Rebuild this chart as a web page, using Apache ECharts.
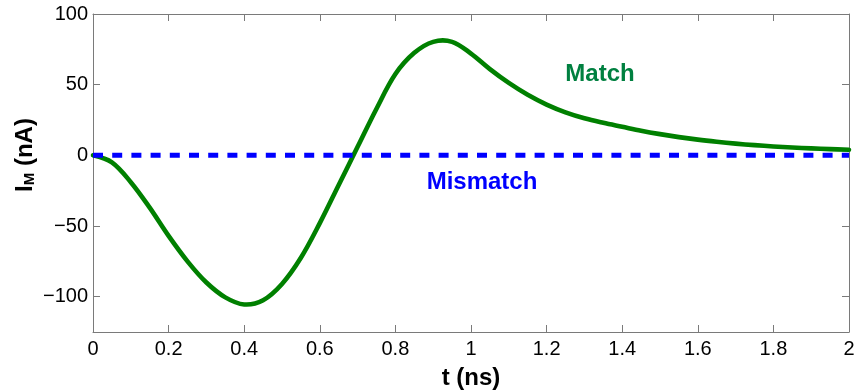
<!DOCTYPE html>
<html>
<head>
<meta charset="utf-8">
<script src="https://cdn.jsdelivr.net/npm/echarts@6/dist/echarts.min.js"></script>
<style>
  html, body { margin: 0; padding: 0; background: #fff; }
  #chart { width: 858px; height: 392px; }
</style>
</head>
<body>
<div id="chart"></div>
<script>
// Time samples (ns), every 0.05 ns, and membrane current (nA)
var timeNs = [0, 0.05, 0.1, 0.15, 0.2, 0.25, 0.3, 0.35, 0.4, 0.45, 0.5, 0.55, 0.6, 0.65,
  0.7, 0.75, 0.8, 0.85, 0.9, 0.95, 1.0, 1.05, 1.1, 1.15, 1.2, 1.25, 1.3, 1.35, 1.4,
  1.45, 1.5, 1.55, 1.6, 1.65, 1.7, 1.75, 1.8, 1.85, 1.9, 1.95, 2.0];
var matchCurrent = [0, -5, -19, -37, -57, -75, -90, -100.5, -105.5, -102.5, -91, -72.5, -48, -21,
  6, 33, 57.5, 72.5, 80.3, 80.3, 72, 61, 51.2, 42.8, 35.9, 30.4, 26.2, 23, 20.2,
  17.4, 15, 12.9, 11.1, 9.6, 8.3, 7.2, 6.3, 5.5, 4.9, 4.4, 4];
var mismatchTime = [0, 2];
var mismatchCurrent = [0, 0];
var yTicks = [-100, -50, 0, 50, 100];

var FONT = 'Liberation Sans, Arial, Helvetica, sans-serif';
var AXIS_GRAY = '#7a7a7a';

function pairs(xs, ys) {
  return xs.map(function (x, i) { return [x, ys[i]]; });
}
var matchData = pairs(timeNs, matchCurrent);

var chart = echarts.init(document.getElementById('chart'), null, { renderer: 'canvas' });

var baseX = {
  type: 'value', min: 0, max: 2, interval: 0.2,
  axisLine: { show: true, onZero: false, lineStyle: { color: AXIS_GRAY, width: 1 } },
  axisTick: { show: true, inside: true, length: 7, lineStyle: { color: AXIS_GRAY } },
  splitLine: { show: false }
};
var baseY = {
  type: 'value', min: -125, max: 100,
  axisLine: { show: true, onZero: false, lineStyle: { color: AXIS_GRAY, width: 1 } },
  axisTick: { show: true, inside: true, length: 7, customValues: yTicks, lineStyle: { color: AXIS_GRAY } },
  splitLine: { show: false }
};

// The matched response is drawn as one smooth polyline through all samples,
// each sample placed by the grid's axes.
function renderMatch(params, api) {
  if (params.dataIndex !== 0) return null;
  var pts = matchData.map(function (d) { return api.coord(d); });
  return {
    type: 'polyline',
    shape: { points: pts, smooth: 0.35 },
    style: { stroke: '#008000', lineWidth: 4.6, fill: null, lineCap: 'round', lineJoin: 'round' }
  };
}

chart.setOption({
  animation: false,
  backgroundColor: '#ffffff',
  grid: { left: 93, right: 9, top: 14, bottom: 60, containLabel: false },
  xAxis: [
    Object.assign({}, baseX, {
      position: 'bottom',
      axisLabel: { show: true, color: '#000', fontFamily: FONT, fontSize: 20, margin: 7 }
    }),
    Object.assign({}, baseX, { position: 'top', axisLabel: { show: false } })
  ],
  yAxis: [
    Object.assign({}, baseY, {
      position: 'left',
      axisLabel: {
        show: true, color: '#000', fontFamily: FONT, fontSize: 20, margin: 5,
        customValues: yTicks,
        formatter: function (v) { return String(v).replace('-', '\u2212'); }
      }
    }),
    Object.assign({}, baseY, { position: 'right', axisLabel: { show: false } })
  ],
  series: [
    {
      name: 'Match', type: 'custom', xAxisIndex: 0, yAxisIndex: 0,
      data: matchData,
      renderItem: renderMatch,
      encode: { x: 0, y: 1 },
      z: 2
    },
    {
      name: 'Mismatch', type: 'line', xAxisIndex: 0, yAxisIndex: 0,
      data: pairs(mismatchTime, mismatchCurrent),
      showSymbol: false,
      lineStyle: { color: '#0000ff', width: 5, type: [10, 9.2], cap: 'butt' },
      z: 3
    }
  ],
  graphic: [
    {
      type: 'text', x: 471, y: 378,
      style: { text: 't (ns)', font: 'bold 24px ' + FONT, fill: '#000', align: 'center', verticalAlign: 'middle' }
    },
    {
      type: 'text', x: 25, y: 155, rotation: Math.PI / 2,
      style: {
        text: '{b|I}{s|M}{b| (nA)}', align: 'center', verticalAlign: 'middle',
        rich: {
          b: { font: 'bold 24px ' + FONT, fill: '#000', lineHeight: 24, verticalAlign: 'top' },
          s: { font: 'bold 15px ' + FONT, fill: '#000', lineHeight: 15, verticalAlign: 'bottom', padding: [14, 0, 0, 0] }
        }
      }
    },
    {
      type: 'text', x: 600, y: 74,
      style: { text: 'Match', font: 'bold 24px ' + FONT, fill: '#008040', align: 'center', verticalAlign: 'middle' }
    },
    {
      type: 'text', x: 482, y: 182,
      style: { text: 'Mismatch', font: 'bold 24px ' + FONT, fill: '#0000ff', align: 'center', verticalAlign: 'middle' }
    }
  ]
});
</script>
</body>
</html>
